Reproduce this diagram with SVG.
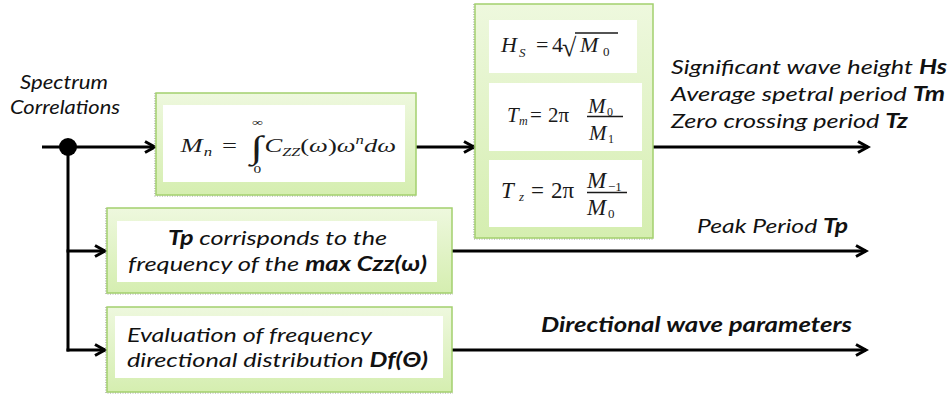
<svg xmlns="http://www.w3.org/2000/svg" width="949" height="395" viewBox="0 0 949 395">
  <defs>
    <linearGradient id="gfill" x1="0" y1="0" x2="0" y2="1">
      <stop offset="0" stop-color="#eef8de"/>
      <stop offset="1" stop-color="#d5eeb0"/>
    </linearGradient>
    <marker id="arr" markerUnits="userSpaceOnUse" markerWidth="16" markerHeight="16" viewBox="0 0 16 16" refX="13" refY="8" orient="auto">
      <path d="M3,2.5 L13,8 L3,13.5" fill="none" stroke="#000" stroke-width="3"/>
    </marker>
  </defs>
  <style>
    .outer { fill: url(#gfill); stroke: #a3d06e; stroke-width: 1.5; }
    .shadow { fill: none; stroke: #9a9a9a; stroke-width: 1.2; stroke-dasharray: 1 1.5; }
    .inner { fill: #ffffff; }
    .lbl { font-family: Lato, "Open Sans", "Liberation Sans", sans-serif; font-style: italic; font-size: 20px; fill: #111; }
    .b { font-weight: bold; }
    .math { font-family: "Liberation Serif", "DejaVu Serif", serif; fill: #1a1a1a; }
    .it { font-style: italic; }
    .up { font-style: normal; }
    .conn { stroke: #000; stroke-width: 3; fill: none; }
    .bar { stroke: #1a1a1a; stroke-width: 1.3; }
  </style>

  <rect width="949" height="395" fill="#ffffff"/>

  <!-- input label -->
  <g id="input-label">
    <text class="lbl" x="20" y="89" font-size="17" textLength="88" lengthAdjust="spacingAndGlyphs">Spectrum</text>
    <text class="lbl" x="10" y="114" font-size="17" textLength="110" lengthAdjust="spacingAndGlyphs">Correlations</text>
  </g>

  <!-- connectors -->
  <g id="connectors">
    <line class="conn" x1="42" y1="147" x2="155" y2="147" marker-end="url(#arr)"/>
    <line class="conn" x1="68" y1="147" x2="68" y2="351.5"/>
    <line class="conn" x1="66.5" y1="251" x2="105" y2="251" marker-end="url(#arr)"/>
    <line class="conn" x1="66.5" y1="350" x2="105" y2="350" marker-end="url(#arr)"/>
    <circle cx="68" cy="147" r="9" fill="#000"/>
    <line class="conn" x1="416" y1="147" x2="474" y2="147" marker-end="url(#arr)"/>
    <line class="conn" x1="653" y1="147" x2="868" y2="147" marker-end="url(#arr)"/>
    <line class="conn" x1="452" y1="251" x2="866" y2="251" marker-end="url(#arr)"/>
    <line class="conn" x1="452" y1="350" x2="866" y2="350" marker-end="url(#arr)"/>
  </g>

  <!-- moments box -->
  <g id="moments">
    <polyline class="shadow" points="155,93 155,196 417,196"/>
    <rect class="outer" x="156" y="93" width="260" height="102"/>
    <rect class="inner" x="163" y="105" width="242" height="77"/>
    <g class="math" transform="translate(182,152) scale(1.4,1)" font-size="19">
      <text class="it" x="-1" y="0">M</text>
      <text class="it" x="15.5" y="4" font-size="12">n</text>
      <text x="28.5" y="0">=</text>
      <text x="49" y="6" font-size="32">∫</text>
      <text x="50" y="-26" font-size="11">∞</text>
      <text x="51" y="21" font-size="11">0</text>
      <text class="it" x="59" y="0">C<tspan font-size="11.5" dy="4">ZZ</tspan><tspan class="up" dy="-4">(</tspan>ω<tspan class="up">)</tspan>ω<tspan font-size="12" dy="-8">n</tspan><tspan dy="8">dω</tspan></text>
    </g>
  </g>

  <!-- wave parameters box -->
  <g id="wave-params">
    <polyline class="shadow" points="474,4 474,239 654,239"/>
    <rect class="outer" x="475" y="4" width="178" height="234"/>
    <rect class="inner" x="489" y="20" width="148" height="53"/>
    <rect class="inner" x="489" y="83" width="153" height="68"/>
    <rect class="inner" x="489" y="160" width="153" height="67"/>
    <!-- Hs -->
    <g class="math" font-size="22">
      <text class="it" x="501" y="52">H</text>
      <text class="it" x="519" y="57" font-size="13">S</text>
      <text x="536" y="52">=</text>
      <text x="552" y="52">4</text>
      <text x="562" y="56" font-size="26">√</text>
      <line class="bar" x1="575" y1="33" x2="618" y2="33"/>
      <text class="it" x="580" y="52">M</text>
      <text x="603" y="56" font-size="13">0</text>
    </g>
    <!-- Tm -->
    <g class="math" font-size="21">
      <text class="it" x="507" y="122">T</text>
      <text class="it" x="519" y="125" font-size="12">m</text>
      <text x="530" y="122">=</text>
      <text x="548" y="122">2π</text>
      <line class="bar" x1="587" y1="116.5" x2="623" y2="116.5"/>
      <text class="it" x="588" y="113">M</text>
      <text x="607" y="116" font-size="12">0</text>
      <text class="it" x="589" y="140">M</text>
      <text x="608" y="143" font-size="12">1</text>
    </g>
    <!-- Tz -->
    <g class="math" font-size="23">
      <text class="it" x="501" y="198">T</text>
      <text class="it" x="519" y="201" font-size="13">z</text>
      <text x="531" y="198">=</text>
      <text x="551" y="198">2π</text>
      <line class="bar" x1="587" y1="192.5" x2="627" y2="192.5"/>
      <text class="it" x="587" y="188">M</text>
      <text x="608" y="191" font-size="13">−1</text>
      <text class="it" x="587" y="215">M</text>
      <text x="608" y="218" font-size="13">0</text>
    </g>
  </g>

  <!-- peak period box -->
  <g id="peak-period">
    <polyline class="shadow" points="106,208 106,294 453,294"/>
    <rect class="outer" x="107" y="208" width="345" height="85"/>
    <rect class="inner" x="117" y="221" width="320" height="61"/>
    <text class="lbl" x="168" y="245" textLength="219" lengthAdjust="spacingAndGlyphs"><tspan class="b">Tp</tspan> corrisponds  to the</text>
    <text class="lbl" x="128" y="271" textLength="299" lengthAdjust="spacingAndGlyphs">frequency of the <tspan class="b">max Czz(ω)</tspan></text>
  </g>

  <!-- directional box -->
  <g id="directional">
    <polyline class="shadow" points="106,307 106,393 453,393"/>
    <rect class="outer" x="107" y="307" width="345" height="85"/>
    <rect class="inner" x="115" y="316" width="328" height="62"/>
    <text class="lbl" x="127" y="342" textLength="245" lengthAdjust="spacingAndGlyphs">Evaluation of frequency</text>
    <text class="lbl" x="127" y="367" textLength="301" lengthAdjust="spacingAndGlyphs">directional distribution <tspan class="b">Df(Θ)</tspan></text>
  </g>

  <!-- output labels -->
  <g id="outputs">
    <text class="lbl" x="671" y="74" textLength="276" lengthAdjust="spacingAndGlyphs">Significant wave height <tspan class="b">Hs</tspan></text>
    <text class="lbl" x="671" y="101" textLength="274" lengthAdjust="spacingAndGlyphs">Average spetral period <tspan class="b">Tm</tspan></text>
    <text class="lbl" x="671" y="128" textLength="237" lengthAdjust="spacingAndGlyphs">Zero crossing period <tspan class="b">Tz</tspan></text>
    <text class="lbl" x="697" y="233" textLength="151" lengthAdjust="spacingAndGlyphs">Peak Period <tspan class="b">Tp</tspan></text>
    <text class="lbl b" x="541" y="332" textLength="311" lengthAdjust="spacingAndGlyphs">Directional wave parameters</text>
  </g>
</svg>
